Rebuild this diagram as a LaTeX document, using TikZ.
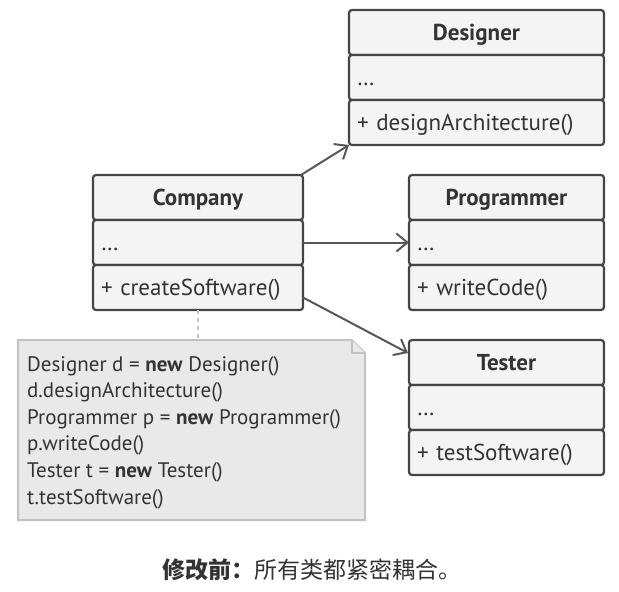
\documentclass[tikz,border=0pt]{standalone}
\usepackage{fontspec}
\setmainfont{PT Sans}
\newfontfamily\cjk{Noto Sans CJK SC}
\usetikzlibrary{arrows.meta,calc}
\definecolor{boxfill}{HTML}{F4F4F4}
\definecolor{boxline}{HTML}{454545}
\definecolor{txt}{HTML}{333333}
\definecolor{arr}{HTML}{575757}
\definecolor{notefill}{HTML}{E9E9E9}
\definecolor{noteline}{HTML}{C2C2C2}
\tikzset{
  sec/.style={draw=boxline, fill=boxfill, line width=2.2pt, rounded corners=3pt,
    minimum height=45pt, inner sep=0pt, outer sep=0pt, text=txt, text height=19pt, text depth=3pt,
    font=\fontsize{23}{26}\selectfont},
  hdr/.style={sec, font=\fontsize{23}{26}\selectfont\bfseries, align=center},
  body/.style={sec, align=left},
  conn/.style={draw=arr, line width=2pt, -{Straight Barb[length=11pt,width=18pt,line width=2pt]}},
  notetext/.style={text=txt, align=left, inner sep=0pt, font=\fontsize{21}{26.6}\selectfont},
}
\newcommand\umlbox[6]{%
  \node[hdr, minimum width=#4pt, text width=#4pt, anchor=north west] (#1-h) at (#2,#3) {#5};
  \node[body, minimum width=#4pt, text width=#4pt-16pt, anchor=north west] (#1-a) at (#1-h.south west) {\ldots};
  \node[body, minimum width=#4pt, text width=#4pt-16pt, anchor=north west] (#1-m) at (#1-a.south west) {#6};
}
\begin{document}
\begin{tikzpicture}[x=1pt,y=-1pt]
\useasboundingbox (0,0) rectangle (619,592);
\umlbox{designer}{349}{10}{255}{Designer}{+ designArchitecture()}
\umlbox{company}{93}{175}{210}{Company}{+ createSoftware()}
\umlbox{programmer}{409}{175}{195}{Programmer}{+ writeCode()}
\umlbox{tester}{409}{340}{195}{Tester}{+ testSoftware()}
% note
\node[minimum width=347pt, minimum height=180pt, inner sep=0pt, outer sep=0pt, anchor=north west] (note) at (18,340) {};
\draw[draw=noteline, fill=notefill, line width=2pt]
  (note.north west) -- ($(note.north east)+(-13,0)$) -- ($(note.north east)+(0,13)$)
  -- (note.south east) -- (note.south west) -- cycle;
\draw[draw=noteline, fill=notefill, line width=2pt, line join=round]
  ($(note.north east)+(-13,0)$) -- ($(note.north east)+(-13,13)$) -- ($(note.north east)+(0,13)$);
\node[notetext, anchor=north west] (code) at (27,356) {Designer d = \textbf{new} Designer()\\
d.designArchitecture()\\
Programmer p = \textbf{new} Programmer()\\
p.writeCode()\\
Tester t = \textbf{new} Tester()\\
t.testSoftware()};
\draw[draw=noteline, line width=2pt, dash pattern=on 4pt off 4pt] (company-m.south) -- (company-m.south |- note.north);
% arrows
\coordinate (c1) at ($(company-h.north east)+(-2,0)$);
\draw[conn] (c1) -- (designer-m.south west);
\draw[conn] (company-a.east) -- (programmer-a.west);
\coordinate (c3) at ($(company-m.east)+(0,10)$);
\coordinate (t3) at ($(tester-h.north west)+(-1,13)$);
\draw[conn] (c3) -- (t3);
% caption
\node[text=txt, font=\fontsize{23}{26}\selectfont] (cap) at (312,570) {{\cjk\bfseries 修改前：}{\cjk 所有类都紧密耦合。}};
\end{tikzpicture}
\end{document}
